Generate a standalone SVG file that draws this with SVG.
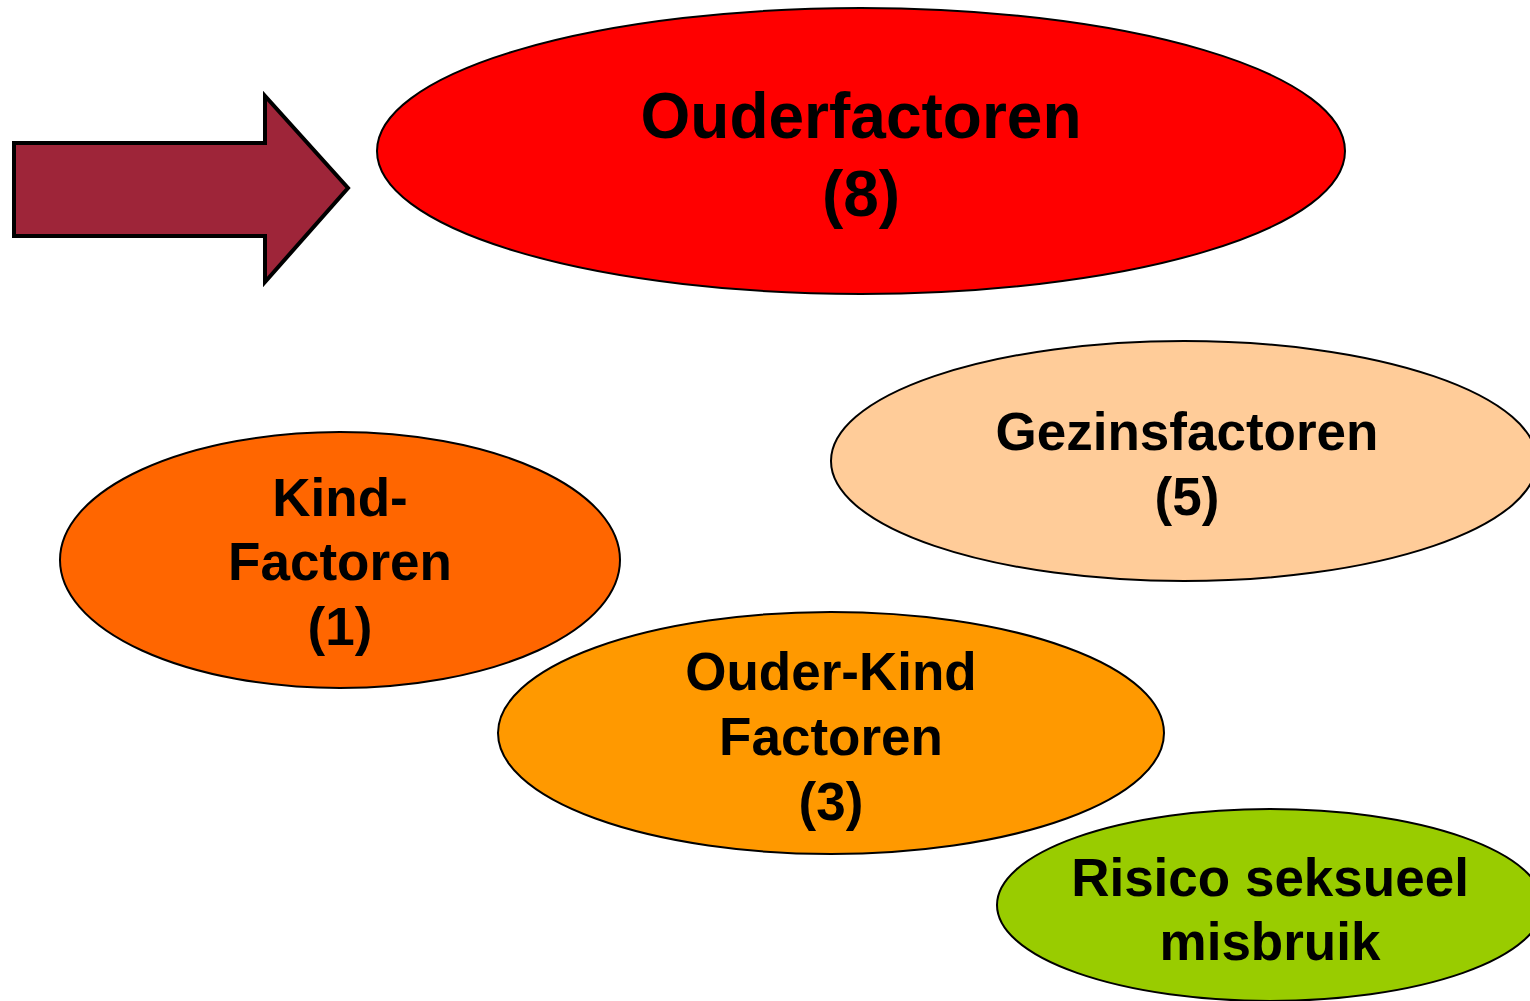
<svg xmlns="http://www.w3.org/2000/svg" width="1530" height="1001" viewBox="0 0 1530 1001">
<style>
.node ellipse{stroke:#000;stroke-width:2}
.t{font-family:"Liberation Sans",Arial,sans-serif;font-weight:bold;fill:#000;text-anchor:middle}
.big{font-size:64px}
.mid{font-size:53px}
</style>
<rect width="1530" height="1001" fill="#fff"/>
<g id="connectors">
<polygon points="14,143 265,143 265,96 348,188 265,282 265,236 14,236" fill="#9E2539" stroke="#000" stroke-width="4"/>
</g>
<g id="ouderfactoren" class="node">
<ellipse cx="861" cy="151" rx="484" ry="143" fill="#FF0000"/>
<text class="t big" x="861" y="138">Ouderfactoren</text>
<text class="t big" x="861" y="216">(8)</text>
</g>
<g id="gezinsfactoren" class="node">
<ellipse cx="1184" cy="461" rx="353" ry="120" fill="#FFCC99"/>
<text class="t mid" x="1187" y="450">Gezinsfactoren</text>
<text class="t mid" x="1187" y="515">(5)</text>
</g>
<g id="kindfactoren" class="node">
<ellipse cx="340" cy="560" rx="280" ry="128" fill="#FF6600"/>
<text class="t mid" x="340" y="516">Kind-</text>
<text class="t mid" x="340" y="580">Factoren</text>
<text class="t mid" x="340" y="645">(1)</text>
</g>
<g id="ouderkindfactoren" class="node">
<ellipse cx="831" cy="733" rx="333" ry="121" fill="#FF9900"/>
<text class="t mid" x="831" y="690">Ouder-Kind</text>
<text class="t mid" x="831" y="755">Factoren</text>
<text class="t mid" x="831" y="820">(3)</text>
</g>
<g id="risico" class="node">
<ellipse cx="1270" cy="905" rx="273" ry="96" fill="#99CC00"/>
<text class="t mid" x="1270" y="896">Risico seksueel</text>
<text class="t mid" x="1270" y="960">misbruik</text>
</g>
</svg>
